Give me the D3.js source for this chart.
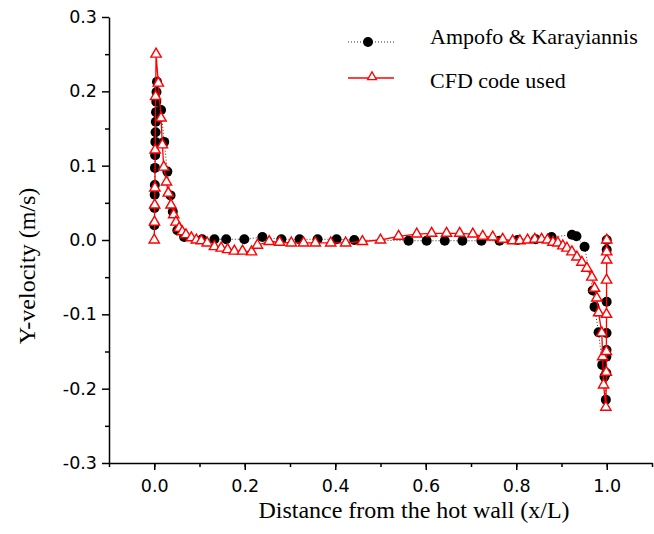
<!DOCTYPE html>
<html>
<head>
<meta charset="utf-8">
<script src="https://cdn.jsdelivr.net/npm/d3@7"></script>
<style>
  body { margin: 0; background: #fff; }
  svg { display: block; }
</style>
</head>
<body>
<div id="chart"></div>
<script>
// Ampofo & Karayiannis (black dots)
const akX = [0.0003, 0.0006, 0.001, 0.0013, 0.0016, 0.002, 0.0025, 0.003, 0.0035, 0.004, 0.0045, 0.005, 0.006,
  0.015, 0.022, 0.029, 0.036, 0.041, 0.051, 0.066, 0.106, 0.133, 0.159, 0.199, 0.239, 0.281, 0.321, 0.361,
  0.403, 0.442, 0.562, 0.602, 0.642, 0.681, 0.723, 0.763, 0.803, 0.843, 0.878, 0.923, 0.933, 0.951, 0.969,
  0.973, 0.982, 0.990, 0.995, 0.998, 0.9990, 0.9992, 0.9994, 0.9996, 0.9998, 0.9999, 1.0];
const akY = [0.020, 0.043, 0.061, 0.074, 0.097, 0.114, 0.132, 0.145, 0.159, 0.172, 0.186, 0.199, 0.213,
  0.175, 0.132, 0.092, 0.060, 0.038, 0.013, 0.004, 0.001, 0.001, 0.001, 0.001, 0.004, 0.001, 0.001, 0.001,
  0.001, 0.000, -0.001, -0.001, -0.001, -0.001, -0.001, -0.001, 0.000, 0.001, 0.004, 0.007, 0.005, -0.009, -0.068,
  -0.090, -0.124, -0.168, -0.184, -0.215, -0.179, -0.157, -0.148, -0.125, -0.083, -0.013, 0.000];

// CFD code used (red triangles)
const cfdX = [0.0, 0.0005, 0.001, 0.0015, 0.002, 0.003, 0.004, 0.009, 0.015, 0.018, 0.021, 0.027, 0.031,
  0.037, 0.043, 0.048, 0.055, 0.062, 0.070, 0.082, 0.093, 0.104, 0.117, 0.133, 0.148, 0.162, 0.177, 0.195,
  0.215, 0.228, 0.254, 0.277, 0.303, 0.330, 0.356, 0.390, 0.423, 0.460, 0.500, 0.540, 0.580, 0.613, 0.646,
  0.675, 0.704, 0.726, 0.748, 0.770, 0.792, 0.808, 0.825, 0.841, 0.856, 0.869, 0.881, 0.892, 0.903, 0.912,
  0.923, 0.934, 0.945, 0.956, 0.967, 0.973, 0.978, 0.982, 0.989, 0.991, 0.993, 0.998,
  0.9990, 0.9992, 0.9994, 0.9996, 0.9998, 0.9999, 1.0];
const cfdY = [0.000, 0.024, 0.047, 0.070, 0.121, 0.193, 0.250, 0.211, 0.164, 0.128, 0.098, 0.078, 0.063,
  0.047, 0.034, 0.024, 0.016, 0.011, 0.007, 0.003, 0.000, -0.001, -0.004, -0.009, -0.011, -0.013, -0.015, -0.015,
  -0.016, -0.007, -0.002, -0.003, -0.004, -0.004, -0.004, -0.004, -0.004, -0.002, 0.000, 0.005, 0.008, 0.009, 0.009,
  0.009, 0.008, 0.005, 0.004, 0.001, -0.001, -0.001, 0.000, 0.001, 0.001, 0.000, -0.003, -0.004, -0.008, -0.011,
  -0.016, -0.023, -0.030, -0.038, -0.050, -0.065, -0.078, -0.098, -0.125, -0.157, -0.195, -0.225,
  -0.178, -0.150, -0.100, -0.054, -0.027, -0.016, 0.000];

const xTicks = [0.0, 0.2, 0.4, 0.6, 0.8, 1.0];
const yTicks = [-0.3, -0.2, -0.1, 0.0, 0.1, 0.2, 0.3];
const legendNames = ["Ampofo & Karayiannis", "CFD code used"];

const W = 654, H = 534;
const svg = d3.select("#chart").append("svg")
  .attr("width", W).attr("height", H);

const x = d3.scaleLinear().domain([-0.1, 1.1]).range([109, 652]);
const y = d3.scaleLinear().domain([-0.3, 0.3]).range([463, 17]);

const akData = akX.map((v, i) => ({x: v, y: akY[i]}));
const cfdData = cfdX.map((v, i) => ({x: v, y: cfdY[i]}));

// plain hyphen for negatives, like the original
const fmt = d => d.toFixed(1);
const tickFont = "'DejaVu Sans', sans-serif";

// Axes: minor ticks first, then major with labels
svg.append("g")
  .attr("transform", `translate(0, ${y(-0.3)})`)
  .call(d3.axisBottom(x).tickValues(d3.range(-0.1, 1.11, 0.1)).tickSize(4).tickFormat(""))
  .call(g => g.select(".domain").remove())
  .selectAll("line").attr("stroke-width", 1.5);

svg.append("g")
  .attr("transform", `translate(0, ${y(-0.3)})`)
  .call(d3.axisBottom(x).tickValues(xTicks).tickSize(7).tickPadding(10).tickSizeOuter(0).tickFormat(fmt))
  .call(g => g.select(".domain").attr("stroke-width", 1.5))
  .call(g => g.selectAll("line").attr("stroke-width", 1.5))
  .call(g => g.selectAll("text").attr("font-family", tickFont).attr("font-size", 17.5).attr("fill", "#000"));

svg.append("g")
  .attr("transform", `translate(${x(-0.1)}, 0)`)
  .call(d3.axisLeft(y).tickValues(d3.range(-0.25, 0.3, 0.1)).tickSize(4).tickFormat(""))
  .call(g => g.select(".domain").remove())
  .selectAll("line").attr("stroke-width", 1.5);

svg.append("g")
  .attr("transform", `translate(${x(-0.1)}, 0)`)
  .call(d3.axisLeft(y).tickValues(yTicks).tickSize(7).tickPadding(5).tickSizeOuter(0).tickFormat(fmt))
  .call(g => g.select(".domain").attr("stroke-width", 1.5))
  .call(g => g.selectAll("line").attr("stroke-width", 1.5))
  .call(g => g.selectAll("text").attr("font-family", tickFont).attr("font-size", 17.5).attr("fill", "#000"));

// Axis titles
svg.append("text")
  .attr("x", 414).attr("y", 518)
  .attr("text-anchor", "middle")
  .attr("font-family", "'Liberation Serif', serif")
  .attr("font-size", 24)
  .text("Distance from the hot wall (x/L)");

svg.append("text")
  .attr("transform", "translate(35, 266) rotate(-90)")
  .attr("text-anchor", "middle")
  .attr("font-family", "'Liberation Serif', serif")
  .attr("font-size", 24)
  .text("Y-velocity (m/s)");

// Lines
const line = d3.line().x(d => x(d.x)).y(d => y(d.y));

svg.append("path")
  .datum(akData)
  .attr("d", line)
  .attr("fill", "none")
  .attr("stroke", "#333")
  .attr("stroke-width", 1)
  .attr("stroke-dasharray", "1,2");

svg.selectAll(".dot")
  .data(akData)
  .join("circle")
  .attr("class", "dot")
  .attr("cx", d => x(d.x))
  .attr("cy", d => y(d.y))
  .attr("r", 5)
  .attr("fill", "#000");

svg.append("path")
  .datum(cfdData)
  .attr("d", line)
  .attr("fill", "none")
  .attr("stroke", "#ff0000")
  .attr("stroke-width", 1.3);

const tri = d3.symbol(d3.symbolTriangle, 46);

svg.selectAll(".tri")
  .data(cfdData)
  .join("path")
  .attr("class", "tri")
  .attr("d", tri)
  .attr("transform", d => `translate(${x(d.x)}, ${y(d.y)})`)
  .attr("fill", "#fff")
  .attr("stroke", "#ff0000")
  .attr("stroke-width", 1.4);

// Legend
const leg = svg.append("g");
leg.append("line")
  .attr("x1", 348).attr("x2", 394).attr("y1", 42).attr("y2", 42)
  .attr("stroke", "#333").attr("stroke-width", 1).attr("stroke-dasharray", "1,2");
leg.append("circle").attr("cx", 368).attr("cy", 42).attr("r", 5).attr("fill", "#000");
leg.append("line")
  .attr("x1", 348).attr("x2", 394).attr("y1", 78).attr("y2", 78)
  .attr("stroke", "#ff0000").attr("stroke-width", 1.3);
leg.append("path").attr("d", d3.symbol(d3.symbolTriangle, 34))
  .attr("transform", "translate(372, 77)")
  .attr("fill", "#fff").attr("stroke", "#ff0000").attr("stroke-width", 1.3);

leg.selectAll(".legtext")
  .data(legendNames)
  .join("text")
  .attr("class", "legtext")
  .attr("x", 430)
  .attr("y", (d, i) => 44 + i * 44)
  .attr("font-family", "'Liberation Serif', serif")
  .attr("font-size", 22)
  .text(d => d);
</script>
</body>
</html>
